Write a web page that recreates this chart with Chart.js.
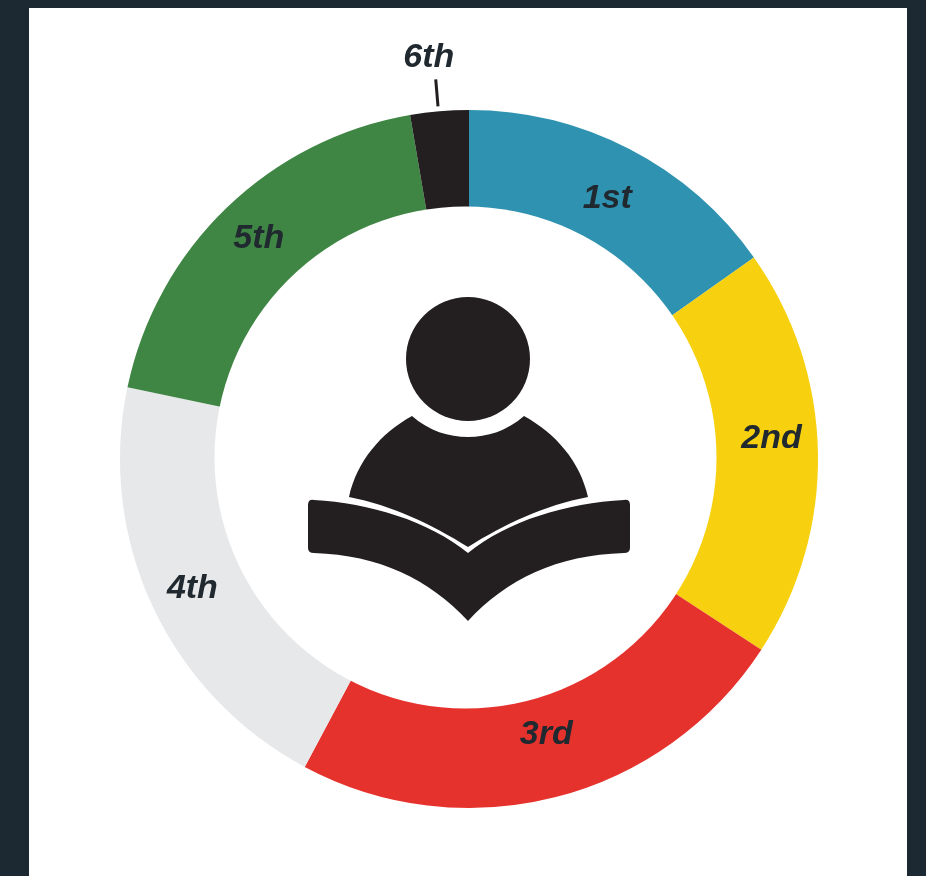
<!DOCTYPE html>
<html><head><meta charset="utf-8">
<style>
html,body{margin:0;padding:0;background:#1c2932;width:926px;height:876px;overflow:hidden}
#panel{position:absolute;left:29px;top:8px;width:878px;height:868px;background:#fff}
canvas{filter:blur(0.7px)}
</style>
<script src="https://cdn.jsdelivr.net/npm/chart.js@4/dist/chart.umd.min.js"></script>
</head><body>
<div id="panel"><canvas id="c" width="878" height="868"></canvas></div>
<script>
const categories=['1st','2nd','3rd','4th','5th','6th'];
const shares=[15.2,19.0,23.6,20.5,19.0,2.7];
const colors=['#2e92b0','#f7d00f','#e5322d','#e7e8ea','#3f8644','#231f20'];
const textColor='#20292f';
const iconColor='#231f20';
const labelNudge=[[1,5],[4,-15],[3,-14],[-6,3],[-3,-5]];

const holePlugin={id:'hole',afterDatasetsDraw(chart){
  const ctx=chart.ctx, a=chart.getDatasetMeta(0).data[0];
  ctx.save();
  ctx.fillStyle='#ffffff';
  ctx.beginPath();ctx.arc(a.x-3.5,a.y-1.5,251,0,Math.PI*2);ctx.fill();
  ctx.restore();
}};

const labelsPlugin={id:'labels',afterDatasetsDraw(chart){
  const ctx=chart.ctx, arcs=chart.getDatasetMeta(0).data;
  ctx.save();
  ctx.font='italic bold 34px "Liberation Sans"';
  ctx.fillStyle=textColor;ctx.textAlign='center';ctx.textBaseline='middle';
  arcs.forEach((a,i)=>{
    const mid=(a.startAngle+a.endAngle)/2;
    if(i<5){
      const r=(a.innerRadius+a.outerRadius)/2+2;
      ctx.fillText(categories[i],a.x+Math.cos(mid)*r+labelNudge[i][0],a.y+Math.sin(mid)*r+labelNudge[i][1]);
    }else{
      const at=q=>[a.x+Math.cos(mid)*q,a.y+Math.sin(mid)*q];
      const s=at(a.outerRadius+5), e=at(a.outerRadius+32), t=at(a.outerRadius+55);
      ctx.strokeStyle=iconColor;ctx.lineWidth=3;
      ctx.beginPath();ctx.moveTo(s[0]-1,s[1]);ctx.lineTo(e[0]-1,e[1]);ctx.stroke();
      ctx.fillText(categories[i],t[0]-6,t[1]+1);
    }
  });
  ctx.restore();
}};

const iconPlugin={id:'icon',afterDatasetsDraw(chart){
  const ctx=chart.ctx, a=chart.getDatasetMeta(0).data[0];
  ctx.save();
  ctx.translate(a.x,a.y);
  ctx.fillStyle=iconColor;
  ctx.beginPath();ctx.arc(-1,-100,62,0,Math.PI*2);ctx.fill();
  ctx.beginPath();
  ctx.moveTo(-120,38);
  ctx.bezierCurveTo(-112,2,-88,-26,-57,-43);
  ctx.bezierCurveTo(-40,-28,-20,-22,-1,-22);
  ctx.bezierCurveTo(18,-22,38,-28,55,-43);
  ctx.bezierCurveTo(86,-26,111,2,119,38);
  ctx.bezierCurveTo(76,46,34,66,-1,88);
  ctx.bezierCurveTo(-36,66,-78,46,-120,38);
  ctx.closePath();ctx.fill();
  ctx.beginPath();
  ctx.moveTo(-155,41);
  ctx.quadraticCurveTo(-161,40,-161,46);
  ctx.lineTo(-161,89);
  ctx.quadraticCurveTo(-161,94,-155,94);
  ctx.bezierCurveTo(-90,96,-40,120,-1,162);
  ctx.bezierCurveTo(38,120,88,96,155,94);
  ctx.quadraticCurveTo(161,94,161,89);
  ctx.lineTo(161,46);
  ctx.quadraticCurveTo(161,40,155,41);
  ctx.bezierCurveTo(98,44,38,62,-1,94);
  ctx.bezierCurveTo(-40,62,-100,44,-155,41);
  ctx.closePath();ctx.fill();
  ctx.restore();
}};

new Chart(document.getElementById('c'),{
  type:'doughnut',
  data:{labels:categories,datasets:[{data:shares,backgroundColor:colors,borderWidth:0}]},
  options:{
    responsive:false,animation:false,cutout:'70%',
    layout:{padding:{left:91,right:89,top:102,bottom:68}},
    plugins:{legend:{display:false},tooltip:{enabled:false}}
  },
  plugins:[holePlugin,labelsPlugin,iconPlugin]
});
</script>
</body></html>
